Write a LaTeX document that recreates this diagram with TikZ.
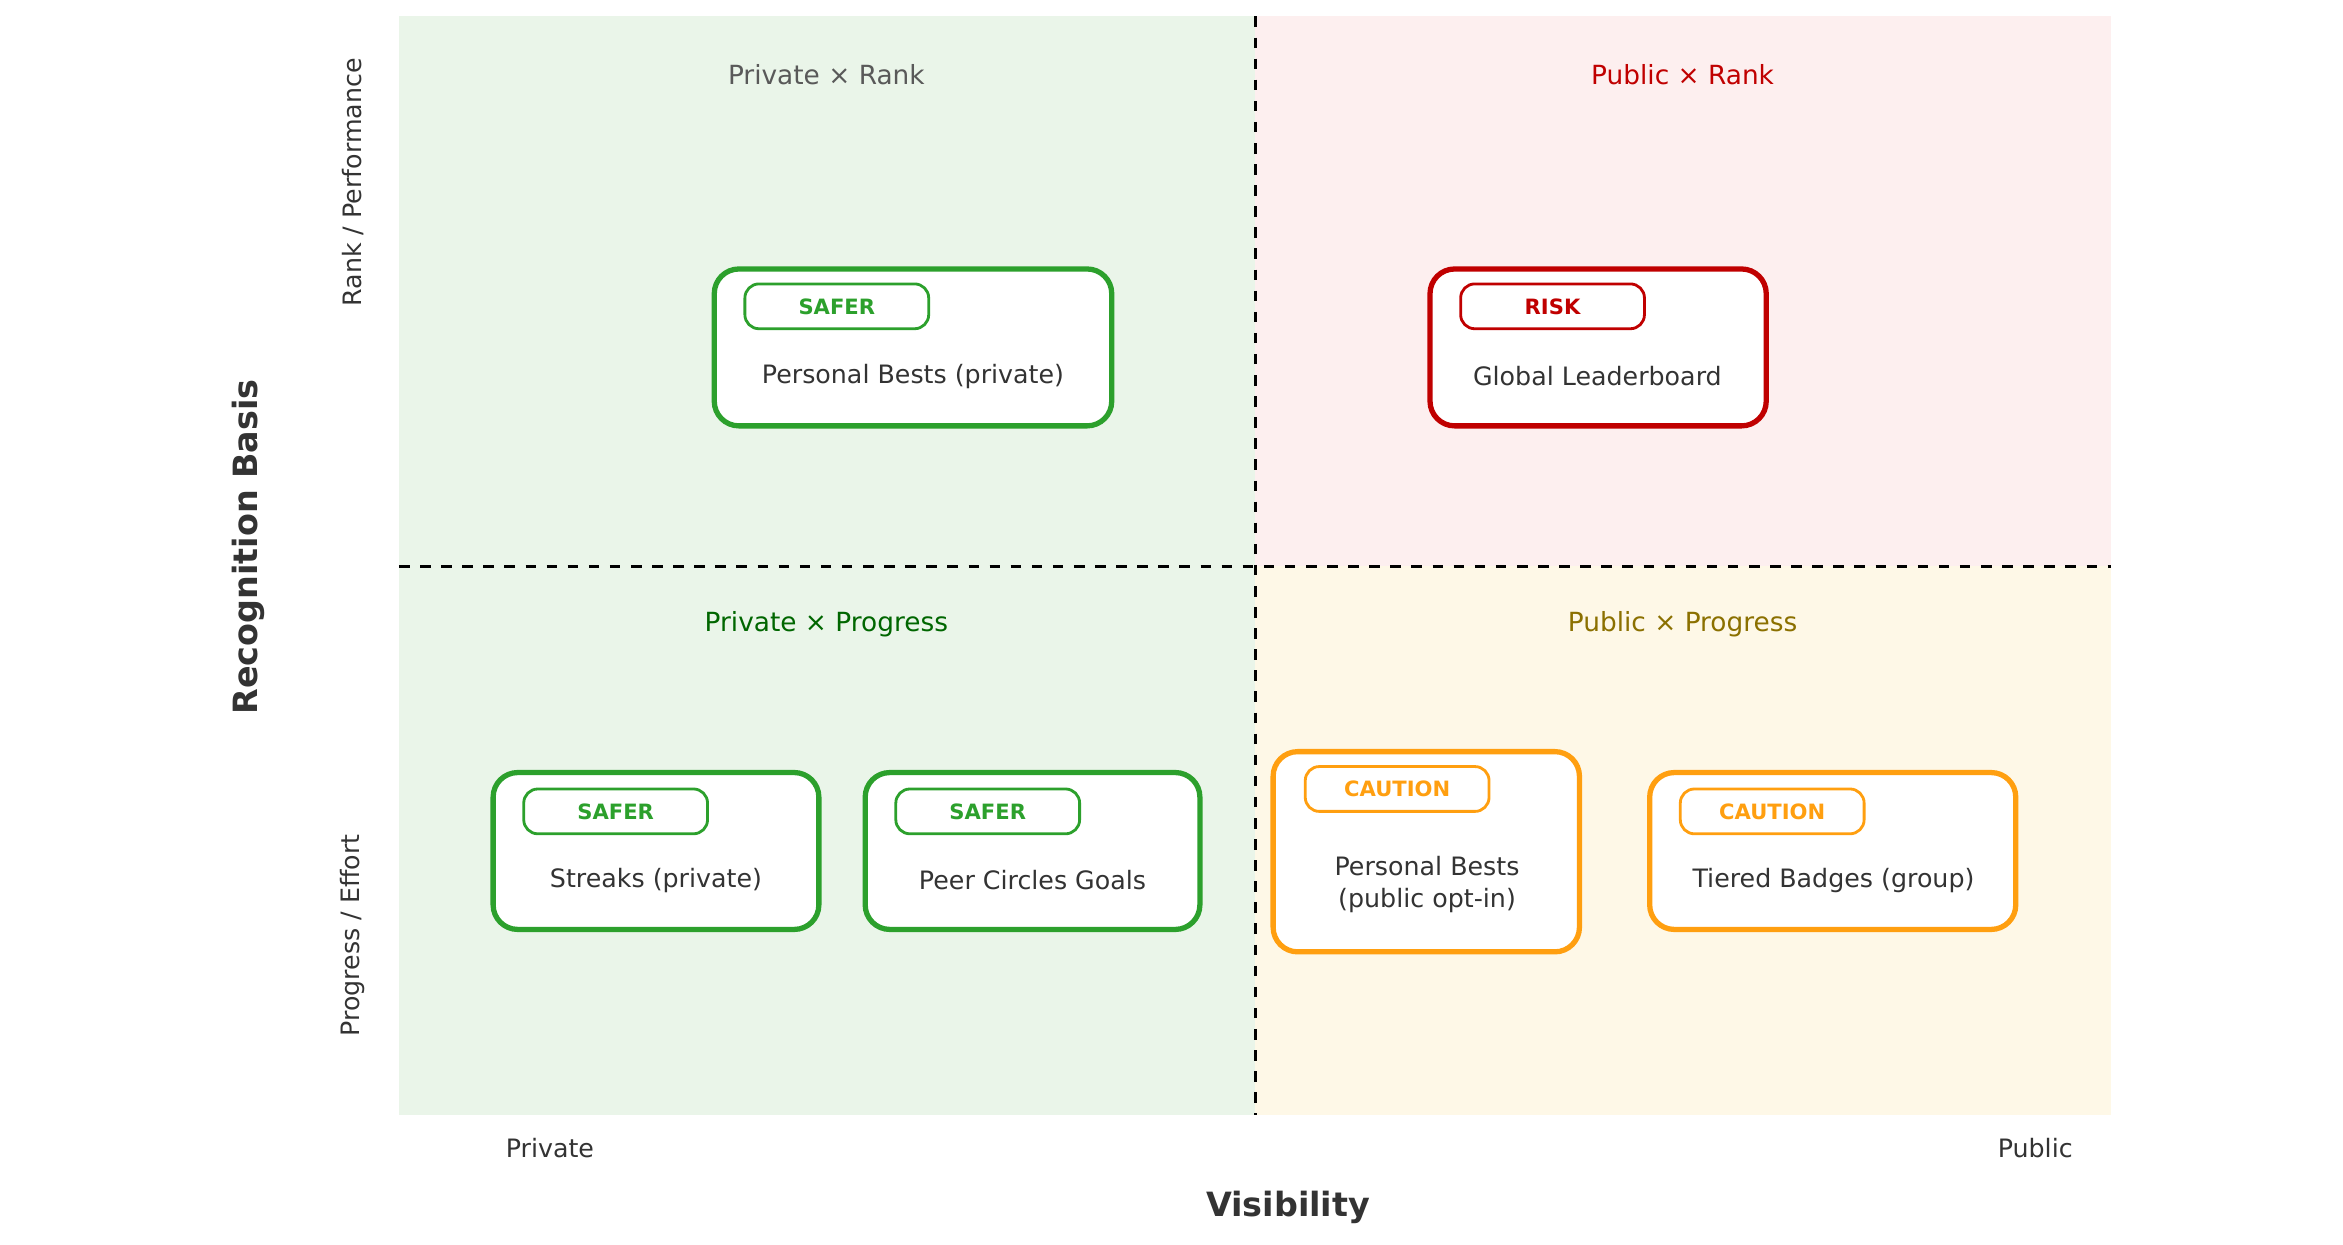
\documentclass[tikz,border=0pt]{standalone}
\usepackage{fontspec}
\setmainfont{DejaVu Sans}
\begin{document}
\definecolor{gq}{HTML}{EAF5E9}\definecolor{rq}{HTML}{FDEFEF}\definecolor{yq}{HTML}{FEF8E7}
\definecolor{gc}{HTML}{2CA02C}\definecolor{rc}{HTML}{C00000}\definecolor{oc}{HTML}{FF9F10}
\definecolor{tx}{HTML}{333333}
\begin{tikzpicture}[x=0.01494cm,y=-0.01494cm,
 card/.style={draw=#1,line width=1.5pt,rounded corners=7pt,fill=white},
 badge/.style={draw=#1,line width=0.8pt,rounded corners=4pt,fill=white,text=#1,font=\fontsize{6}{7}\selectfont\bfseries},
 lab/.style={text=tx,font=\fontsize{7.2}{9}\selectfont,align=center},
 ttl/.style={font=\fontsize{7.5}{9}\selectfont}]
\useasboundingbox (0,0) rectangle (1568,833);
\fill[gq] (267,11) rectangle (840,379);
\fill[rq] (840,11) rectangle (1413,379);
\fill[gq] (267,379) rectangle (840,746);
\fill[yq] (840,379) rectangle (1413,746);
\draw[dashed,thick] (840,11) -- (840,746);
\draw[dashed,thick] (267,379) -- (1413,379);
\node[ttl,text=black!65] (t1) at (553,50) {Private × Rank};
\node[ttl,text=rc] (t2) at (1126,50) {Public × Rank};
\node[ttl,text=green!40!black] (t3) at (553,418) {Private × Progress};
\node[ttl,text={rgb,255:red,139;green,112;blue,0}] (t4) at (1126,418) {Public × Progress};
% cards
\draw[card=gc] (478,180) rectangle (744,285);
\node[badge=gc,minimum width=123*0.01494cm,minimum height=30*0.01494cm] (b1) at (560,205) {SAFER};
\node[lab] (l1) at (611,252) {Personal Bests (private)};
\draw[card=rc] (957,180) rectangle (1182,285);
\node[badge=rc,minimum width=123*0.01494cm,minimum height=30*0.01494cm] (b2) at (1039,205) {RISK};
\node[lab] (l2) at (1069,252) {Global Leaderboard};
\draw[card=gc] (330,517) rectangle (548,622);
\node[badge=gc,minimum width=123*0.01494cm,minimum height=30*0.01494cm] (b3) at (412,543) {SAFER};
\node[lab] (l3) at (439,589) {Streaks (private)};
\draw[card=gc] (579,517) rectangle (803,622);
\node[badge=gc,minimum width=123*0.01494cm,minimum height=30*0.01494cm] (b4) at (661,543) {SAFER};
\node[lab] (l4) at (691,589) {Peer Circles Goals};
\draw[card=oc] (852,503) rectangle (1057,637);
\node[badge=oc,minimum width=123*0.01494cm,minimum height=30*0.01494cm] (b5) at (935,528) {CAUTION};
\node[lab] (l5) at (955,592) {Personal Bests\\(public opt-in)};
\draw[card=oc] (1104,517) rectangle (1349,622);
\node[badge=oc,minimum width=123*0.01494cm,minimum height=30*0.01494cm] (b6) at (1186,543) {CAUTION};
\node[lab] (l6) at (1227,589) {Tiered Badges (group)};
% axes
\node[lab] (xa) at (368,768) {Private};
\node[lab] (xb) at (1362,768) {Public};
\node[text=tx,font=\fontsize{9.5}{11}\selectfont\bfseries] (xl) at (862,808) {Visibility};
\node[text=tx,font=\fontsize{9.5}{11}\selectfont\bfseries,rotate=90] (yl) at (166,366) {Recognition Basis};
\node[lab,rotate=90] (ya) at (236,122) {Rank / Performance};
\node[lab,rotate=90] (yb) at (236,626) {Progress / Effort};
\end{tikzpicture}
\end{document}
